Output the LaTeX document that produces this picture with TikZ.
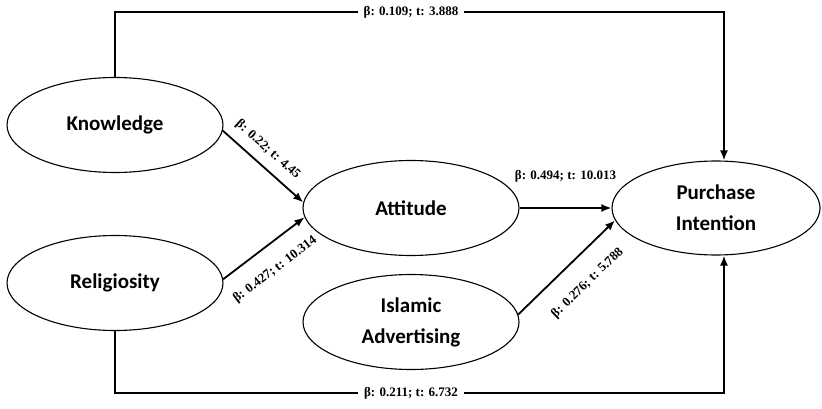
\documentclass[tikz,border=0pt]{standalone}
\usepackage{fontspec}
\setmainfont{Liberation Serif}
\newfontfamily\calfont{Carlito}
\usepackage{tikz}
\usetikzlibrary{arrows.meta,positioning,shapes.geometric}
\tikzset{
construct/.style={draw,ellipse,line width=1.1pt,inner sep=0pt,align=center,minimum width=216pt,minimum height=95pt,font=\calfont\bfseries\fontsize{21}{31}\selectfont},
arrow/.style={-{Latex[length=10pt,width=8pt]},line width=1.8pt},
coef/.style={font=\bfseries\fontsize{13}{15}\selectfont,inner sep=1pt}
}
\begin{document}
\begin{tikzpicture}[x=1pt,y=-1pt]
\useasboundingbox (0,0) rectangle (822,409);
\node[construct] (know) at (115,125) {Knowledge};
\node[construct] (rel) at (115,283) {Religiosity};
\node[construct] (att) at (411,208) {Attitude};
\node[construct] (adv) at (411,322) {Islamic\\Advertising};
\node[construct,minimum width=208pt,minimum height=94pt] (pi) at (716,208) {Purchase\\Intention};
\coordinate (top) at (411,12);
\coordinate (bot) at (411,393);
\draw[arrow](know.-3)--node[coef,sloped,above=8pt,pos=.43](c1){β: 0.22; t: 4.45}(att.177);
\draw[arrow](rel.2)--node[coef,sloped,below=16pt,pos=.46](c2){β: 0.427; t: 10.314}(att.185);
\draw[arrow](att)--node[coef,above=24pt](c3){β: 0.494; t: 10.013}(pi);
\draw[arrow](adv.4)--node[coef,sloped,below=18pt,pos=.53](c4){β: 0.276; t: 5.788}(pi.187);
\draw[arrow](know.north)|-(top)-|([xshift=8pt]pi.north);
\draw[arrow](rel.south)|-(bot)-|([xshift=8pt]pi.south);
\node[coef,fill=white,inner xsep=6pt] (c5) at (top) {β: 0.109; t: 3.888};
\node[coef,fill=white,inner xsep=6pt] (c6) at (bot) {β: 0.211; t: 6.732};
\end{tikzpicture}
\end{document}
